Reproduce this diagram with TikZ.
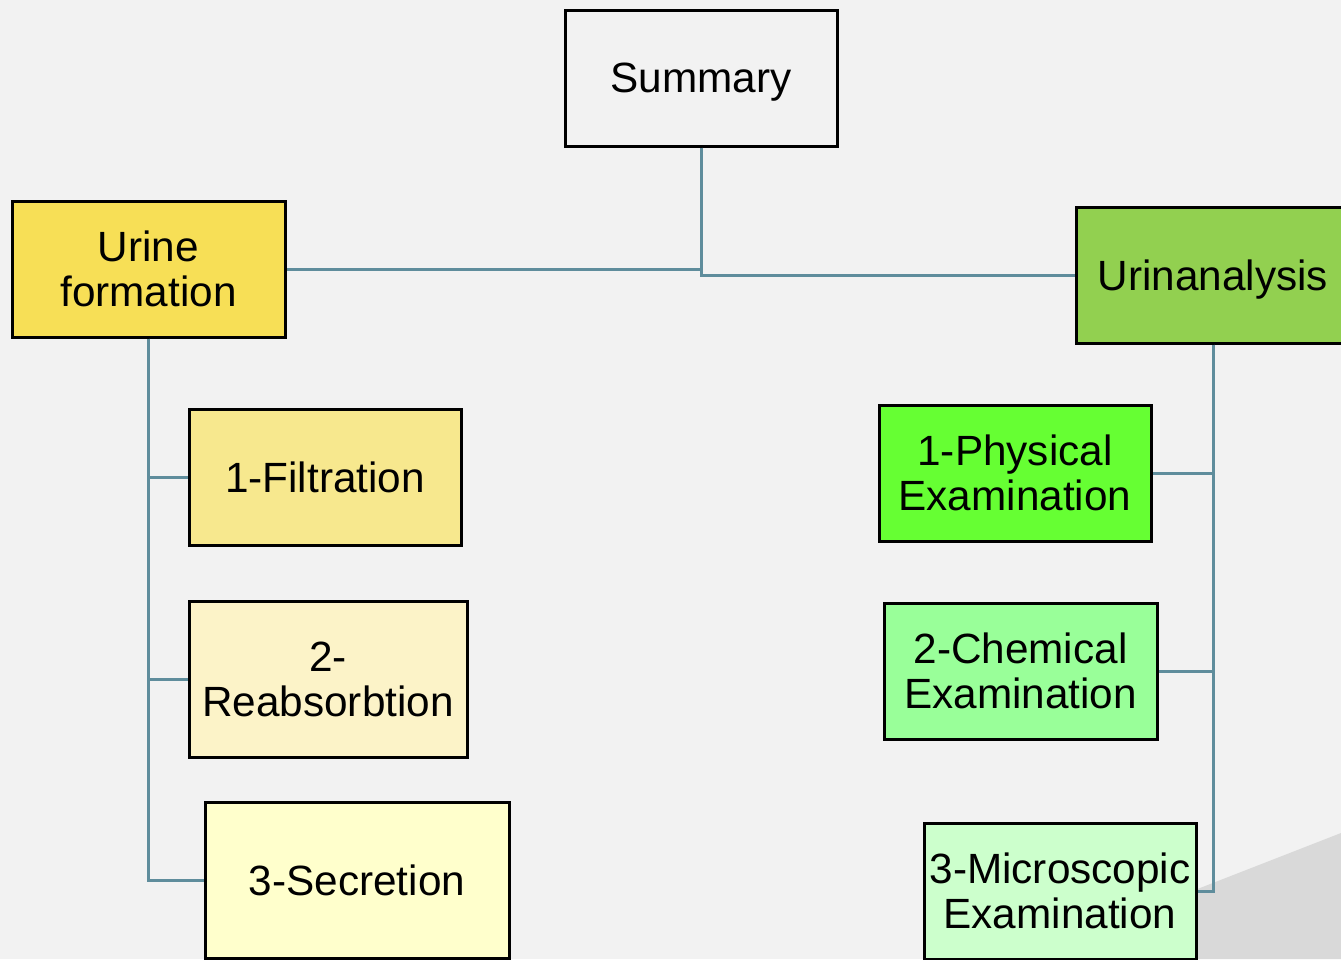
\documentclass[tikz,border=0pt]{standalone}
\usepackage{fontspec}
\setmainfont{Liberation Sans}
\definecolor{bgc}{HTML}{F2F2F2}
\definecolor{wedge}{HTML}{D9D9D9}
\definecolor{conn}{HTML}{5F8D9C}
\definecolor{cUF}{HTML}{F7DF56}
\definecolor{cUA}{HTML}{92D050}
\definecolor{cF1}{HTML}{F7E88E}
\definecolor{cF2}{HTML}{FCF3C8}
\definecolor{cF3}{HTML}{FFFFCC}
\definecolor{cP1}{HTML}{66FF33}
\definecolor{cP2}{HTML}{99FF99}
\definecolor{cP3}{HTML}{CCFFCC}
\begin{document}
\begin{tikzpicture}[x=1pt,y=-1pt,
  box/.style={draw=black, line width=3pt, rectangle, inner sep=0pt, align=center,
    minimum height=136pt, font=\fontsize{42.3}{45}\selectfont},
  link/.style={draw=conn, line width=3pt}]
\useasboundingbox (0,0) rectangle (1341,959);
\clip (0,0) rectangle (1341,959);
\fill[bgc] (0,0) rectangle (1341,959);
\fill[wedge] (1018,959) -- (1341,833) -- (1341,959) -- cycle;

\node[box, fill=bgc, minimum width=272pt, text depth=0pt] (sum) at (701,78) {Summary};
\node[box, fill=cUF, minimum width=273pt] (uf) at (148.5,269) {Urine\\formation};
\node[box, fill=cUA, minimum width=274pt, text depth=0pt] (ua) at (1213,275) {Urinanalysis};
\node[box, fill=cF1, minimum width=272pt] (f1) at (325,477) {1-Filtration};
\node[box, fill=cF2, minimum width=278pt, minimum height=156pt] (f2) at (328,679) {2-\\Reabsorbtion};
\node[box, fill=cF3, minimum width=304pt, minimum height=156pt] (f3) at (357,880) {3-Secretion};
\node[box, fill=cP1, minimum width=272pt] (p1) at (1015,473) {1-Physical\\Examination};
\node[box, fill=cP2, minimum width=273pt] (p2) at (1020.5,671) {2-Chemical\\Examination};
\node[box, fill=cP3, minimum width=272pt] (p3) at (1060,891) {3-Microscopic\\Examination};

\draw[link] (sum.south) |- (uf.east);
\draw[link] (sum.south) |- (ua.west);
\draw[link] (uf.south) |- (f1.west);
\draw[link] (uf.south) |- (f2.west);
\draw[link] (uf.south) |- (f3.west);
\draw[link] (ua.south) |- (p1.east);
\draw[link] (ua.south) |- (p2.east);
\draw[link] (ua.south) |- (p3.east);
\end{tikzpicture}
\end{document}
